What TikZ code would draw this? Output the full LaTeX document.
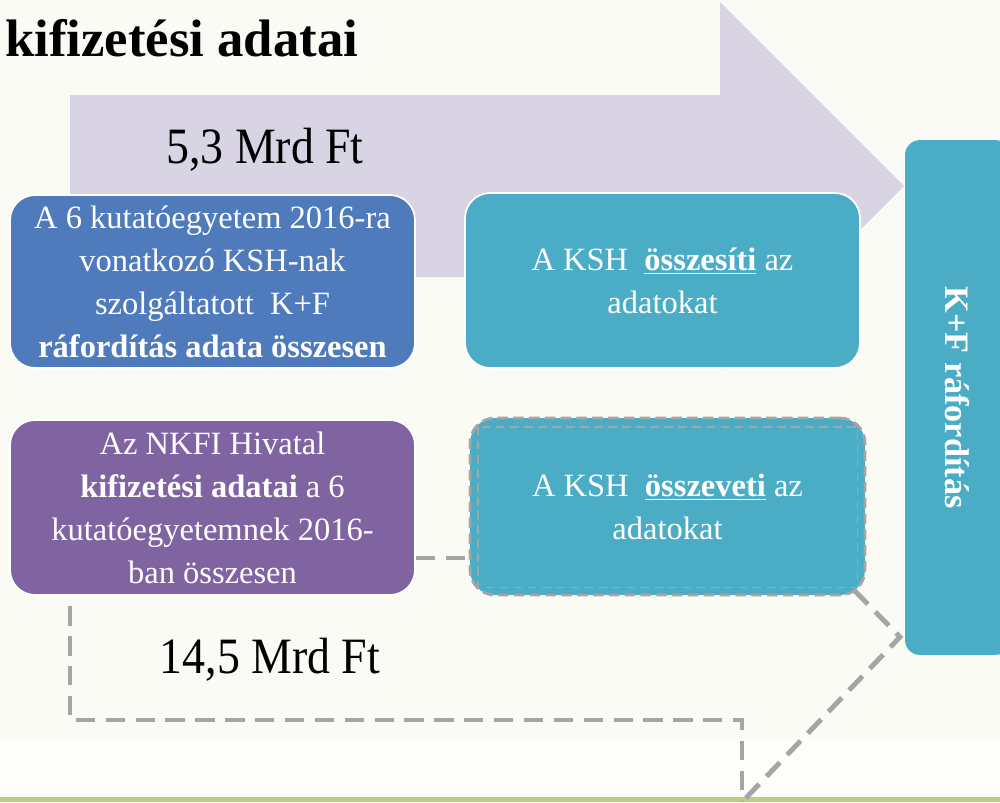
\documentclass[tikz,border=0pt]{standalone}
\usepackage{fontspec}
\setmainfont{Liberation Serif}
\usetikzlibrary{calc}
\definecolor{bgcol}{HTML}{FAFBF5}
\definecolor{bglow}{HTML}{FDFDFA}
\definecolor{barcol}{HTML}{B7D27E}
\definecolor{lavender}{HTML}{D8D4E4}
\definecolor{bluebox}{HTML}{4F7BBC}
\definecolor{tealbox}{HTML}{4BACC6}
\definecolor{purplebox}{HTML}{8064A2}
\definecolor{linegray}{HTML}{A5A5A5}
\begin{document}
\begin{tikzpicture}[x=0.02cm, y=-0.02cm,
  box/.style={rectangle, rounded corners=0.5cm, draw=white, line width=1pt, text=white, align=center, font=\fontsize{18.5}{24.5}\selectfont},
  dashline/.style={draw=linegray, line width=2.8pt, dash pattern=on 11pt off 6pt},
  amount/.style={font=\fontsize{29}{34}\selectfont}]
  \clip (0,0) rectangle (1000,802);
  \fill[bgcol] (0,0) rectangle (1000,738);
  \fill[bglow] (0,738) rectangle (1000,797);
  \fill[barcol] (0,797) rectangle (1000,802);
  \fill[lavender] (70,95) -- (720,95) -- (720,2) -- (904,186) -- (720,370) -- (720,277) -- (70,277) -- cycle;
  \node[anchor=base west, font=\fontsize{30}{33}\selectfont\bfseries] (title) at (-1,56) {kifizetési adatai};
  \node[amount] (sum1) at (265,150) {\scalebox{0.9}[1]{5,3 Mrd Ft}};
  \node[amount] (sum2) at (270,660) {\scalebox{0.9}[1]{14,5 Mrd Ft}};
  \node[box, fill=bluebox, minimum width=8.1cm, minimum height=3.46cm] (kutato) at (212.5,281.5) {A 6 kutatóegyetem 2016-ra\\vonatkozó KSH-nak\\szolgáltatott\ \ K+F\\\textbf{ráfordítás adata összesen}};
  \node[box, fill=tealbox, minimum width=7.9cm, minimum height=3.5cm] (osszesit) at (662.5,280.5) {A KSH\ \ \underline{\textbf{összesíti}} az\\adatokat};
  \node[box, fill=purplebox, minimum width=8.1cm, minimum height=3.5cm] (nkfi) at (212.5,507.5) {Az NKFI Hivatal\\\textbf{kifizetési adatai} a 6\\kutatóegyetemnek 2016-\\ban összesen};
  \node[box, fill=tealbox, draw=linegray, line width=1.6pt, dash pattern=on 6pt off 3pt, minimum width=7.9cm, minimum height=3.54cm] (osszevet) at (667.5,506.5) {A KSH\ \ \underline{\textbf{összeveti}} az\\adatokat};
  \draw[linegray, line width=1pt, dash pattern=on 5pt off 3pt] ([shift={(9,10)}]osszevet.north west) rectangle ([shift={(-9,-9)}]osszevet.south east);
  \node[box, fill=tealbox, draw=none, rounded corners=0.3cm, rotate=-90, minimum width=10.3cm, minimum height=2.1cm, font=\fontsize{19.5}{22}\selectfont\bfseries] (raford) at (957.5,397.5) {K+F ráfordítás};
  \coordinate (row) at (0,558);
  \coordinate (bend1) at (70,720);
  \coordinate (bend2) at (742,720);
  \coordinate (kink) at (900,637);
  \coordinate (drop) at (742,802);
  \draw[dashline] (nkfi.east |- row) -- (osszevet.west |- row);
  \draw[dashline, shorten <=6pt] (nkfi.south -| bend1) -- (bend1) -- (bend2) -- (drop);
  \draw[dashline] ([shift={(-12,-6)}]osszevet.south east) -- (kink) -- (drop);
\end{tikzpicture}
\end{document}
